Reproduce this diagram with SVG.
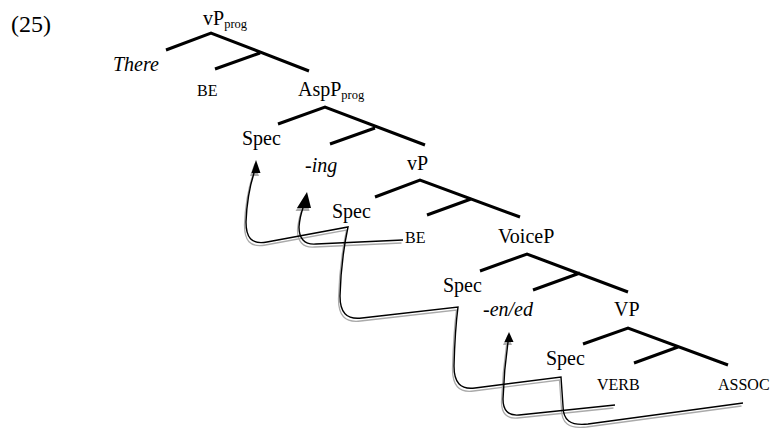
<svg xmlns="http://www.w3.org/2000/svg" xmlns:xlink="http://www.w3.org/1999/xlink" width="774" height="428" viewBox="0 0 774 428">
<defs>
<style>
text{font-family:"Liberation Serif","Times New Roman",serif;fill:#000}
.t{font-size:20px}
.i{font-size:20px;font-style:italic}
.s{font-size:16px}
.sub{font-size:12.5px}
.num{font-size:24px}
.br{fill:none;stroke:#000;stroke-width:3;stroke-linejoin:miter}
.cn{fill:none;stroke:#000;stroke-width:1.4}
.ah{fill:#000;stroke:none}
.sh{fill:none;stroke:#aaa;stroke-width:1.3}
.sha{fill:#aaa}
</style>
<path id="p1" d="M743,403 L588,424 C570,426 563,420 563,406 L561,377 L475,388 C460,390 454,382 454,366 Q455,330 458,307 L362,318 C346,320 340,312 340,296 Q341,260 348,227 L267,242 C251,245 246,237 246,222 Q247,195 254,173"/>
<path id="p2" d="M403,240 L316,244 C304,245 299,238 299,227 Q300,216 303,208"/>
<path id="p3" d="M615,405 L519,415 C508,416 503,410 503,399 Q504,370 508,342"/>
<polygon id="a1" points="256,160 251.5,173 260.5,173"/>
<polygon id="a2" points="307,192 297,208 311,208"/>
<polygon id="a3" points="509,332 504.5,342 513.5,342"/>
</defs>
<rect width="774" height="428" fill="#fff"/>
<text class="num" x="11" y="32">(25)</text>

<g id="vPprog">
<path class="br" d="M166,50 L211,33 L309,71 M215,69 L260,53"/>
<text class="t" x="203" y="25">vP<tspan class="sub" dy="3">prog</tspan></text>
</g>
<g id="There"><text class="i" x="113" y="71">There</text></g>
<g id="BE1"><text class="s" x="197" y="96">BE</text></g>

<g id="AspPprog">
<path class="br" d="M278,124 L325,107 L425,145 M330,144 L375,128"/>
<text class="t" x="298" y="96">AspP<tspan class="sub" dy="3">prog</tspan></text>
</g>
<g id="Spec1"><text class="t" x="242" y="145">Spec</text></g>
<g id="ing"><text class="i" x="305" y="172">-ing</text></g>

<g id="vP">
<path class="br" d="M375,197 L420,180 L520,217 M427,215 L471,199"/>
<text class="t" x="407" y="170">vP</text>
</g>
<g id="Spec2"><text class="t" x="332" y="218">Spec</text></g>
<g id="BE2"><text class="s" x="405" y="243">BE</text></g>

<g id="VoiceP">
<path class="br" d="M480,271 L527,254 L628,292 M533,290 L580,273"/>
<text class="t" x="498" y="243">VoiceP</text>
</g>
<g id="Spec3"><text class="t" x="443" y="292">Spec</text></g>
<g id="enEd"><text class="i" x="483" y="316">-en/ed</text></g>

<g id="VP">
<path class="br" d="M583,344 L628,328 L728,365 M634,363 L678,347"/>
<text class="t" x="614" y="316">VP</text>
</g>
<g id="Spec4"><text class="t" x="546" y="365">Spec</text></g>
<g id="VERB"><text class="s" x="597" y="390">VERB</text></g>
<g id="ASSOC"><text class="s" x="718" y="390">ASSOC</text></g>

<g id="connectors">
<g transform="translate(-1.5,3)">
<use xlink:href="#p1" class="sh"/>
<use xlink:href="#p2" class="sh"/>
<use xlink:href="#p3" class="sh"/>
<use xlink:href="#a1" class="sha"/><use xlink:href="#a2" class="sha"/><use xlink:href="#a3" class="sha"/>
</g>
<use xlink:href="#p1" class="cn"/>
<use xlink:href="#p2" class="cn"/>
<use xlink:href="#p3" class="cn"/>
<use xlink:href="#a1" class="ah"/>
<use xlink:href="#a2" class="ah"/>
<use xlink:href="#a3" class="ah"/>
</g>
</svg>
